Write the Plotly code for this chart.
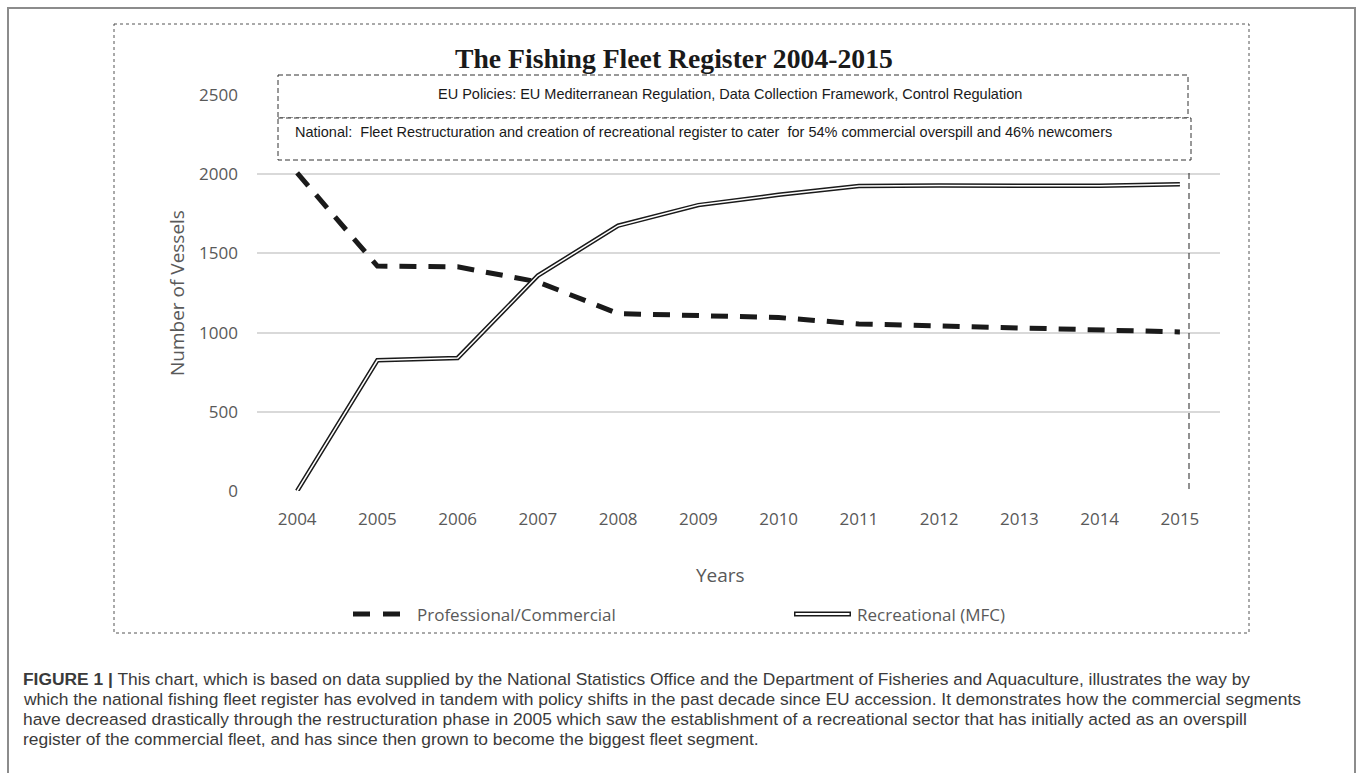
import plotly.graph_objects as go

years = ["2004", "2005", "2006", "2007", "2008", "2009", "2010", "2011", "2012", "2013", "2014", "2015"]
commercial = [2008, 1420, 1415, 1320, 1120, 1110, 1095, 1055, 1042, 1023, 1015, 1004]
recreational = [0, 825, 840, 1360, 1675, 1805, 1870, 1925, 1928, 1929, 1927, 1937]
y_ticks = [0, 500, 1000, 1500, 2000, 2500]

title_text = "The Fishing Fleet Register 2004-2015"
eu_text = "EU Policies: EU Mediterranean Regulation, Data Collection Framework, Control Regulation"
nat_text = "National:  Fleet Restructuration and creation of recreational register to cater  for 54% commercial overspill and 46% newcomers"
caption_lines = [
    "<b>FIGURE 1 |</b> This chart, which is based on data supplied by the National Statistics Office and the Department of Fisheries and Aquaculture, illustrates the way by",
    "which the national fishing fleet register has evolved in tandem with policy shifts in the past decade since EU accession. It demonstrates how the commercial segments",
    "have decreased drastically through the restructuration phase in 2005 which saw the establishment of a recreational sector that has initially acted as an overspill",
    "register of the commercial fleet, and has since then grown to become the biggest fleet segment.",
]

W, H = 1357, 773
L, R, T, B = 257, 1220, 95, 491


def px(x):
    return (x - L) / (R - L)


def py(y):
    return (B - y) / (B - T)


fig = go.Figure()
fig.add_trace(go.Scatter(x=years, y=commercial, mode="lines", name="Professional/Commercial",
                         line=dict(color="#1a1a1a", width=5, dash="17px,12px"), showlegend=False))
fig.add_trace(go.Scatter(x=years, y=recreational, mode="lines", name="Recreational (MFC)",
                         line=dict(color="#1a1a1a", width=4.5), showlegend=False))
fig.add_trace(go.Scatter(x=years, y=recreational, mode="lines", name="Recreational (MFC)",
                         line=dict(color="white", width=1.5), showlegend=False, hoverinfo="skip"))

shapes = []
# outer solid frame
shapes.append(dict(type="rect", xref="paper", yref="paper", x0=px(8), x1=px(1355), y0=py(8), y1=py(800),
                   line=dict(color="#8c8c8c", width=2), layer="below"))
# dotted chart frame
shapes.append(dict(type="rect", xref="paper", yref="paper", x0=px(114), x1=px(1249), y0=py(24), y1=py(633),
                   line=dict(color="#555555", width=1, dash="dot"), layer="below"))
# EU box
shapes.append(dict(type="rect", xref="paper", yref="paper", x0=px(278), x1=px(1188), y0=py(75), y1=py(118),
                   line=dict(color="#333333", width=1, dash="5px,3px"), fillcolor="white", layer="above"))
# National box
shapes.append(dict(type="rect", xref="paper", yref="paper", x0=px(278), x1=px(1191), y0=py(118), y1=py(160),
                   line=dict(color="#333333", width=1, dash="5px,3px"), fillcolor="white", layer="above"))
# vertical dashed line at end
shapes.append(dict(type="line", xref="paper", yref="paper", x0=px(1189), x1=px(1189), y0=py(173), y1=py(491),
                   line=dict(color="#222222", width=1, dash="6px,4px"), layer="above"))
# legend samples
shapes.append(dict(type="line", xref="paper", yref="paper", x0=px(353), x1=px(406), y0=py(614), y1=py(614),
                   line=dict(color="#1a1a1a", width=5, dash="17px,13px")))
shapes.append(dict(type="line", xref="paper", yref="paper", x0=px(794), x1=px(851), y0=py(614), y1=py(614),
                   line=dict(color="#1a1a1a", width=5)))
shapes.append(dict(type="line", xref="paper", yref="paper", x0=px(795.5), x1=px(849.5), y0=py(614), y1=py(614),
                   line=dict(color="white", width=1.8)))

sans = "Open Sans, Liberation Sans, sans-serif"
box_font = "Liberation Sans, Arial, sans-serif"
ann = []
ann.append(dict(text="<b>" + title_text + "</b>", x=px(674), y=py(58), xref="paper", yref="paper",
                showarrow=False, xanchor="center", yanchor="middle",
                font=dict(family="Liberation Serif, Times New Roman, serif", size=27.7, color="#1a1a1a")))
ann.append(dict(text=eu_text, x=px(730), y=py(94), xref="paper", yref="paper", showarrow=False,
                xanchor="center", yanchor="middle",
                font=dict(family=box_font, size=14.5, color="#1a1a1a")))
ann.append(dict(text=nat_text, x=px(293), y=py(132), xref="paper", yref="paper", showarrow=False,
                xanchor="left", yanchor="middle",
                font=dict(family=box_font, size=14.5, color="#1a1a1a")))
ann.append(dict(text="Number of Vessels", x=px(177), y=py(293), xref="paper", yref="paper", showarrow=False,
                xanchor="center", yanchor="middle", textangle=-90,
                font=dict(family=sans, size=19, color="#595959")))
ann.append(dict(text="Years", x=px(720), y=py(575), xref="paper", yref="paper", showarrow=False,
                xanchor="center", yanchor="middle", font=dict(family=sans, size=19, color="#595959")))
ann.append(dict(text="Professional/Commercial", x=px(415), y=py(614), xref="paper", yref="paper", showarrow=False,
                xanchor="left", yanchor="middle", font=dict(family=sans, size=17, color="#595959")))
ann.append(dict(text="Recreational (MFC)", x=px(855), y=py(614), xref="paper", yref="paper", showarrow=False,
                xanchor="left", yanchor="middle", font=dict(family=sans, size=17, color="#595959")))
cap_y = [679, 699, 719, 739]
for line, yy in zip(caption_lines, cap_y):
    ann.append(dict(text=line, x=px(21), y=py(yy), xref="paper", yref="paper", showarrow=False,
                    xanchor="left", yanchor="middle",
                    font=dict(family="Liberation Sans, Arial, sans-serif", size=17.4, color="#3a3a3a")))

fig.update_layout(
    width=W, height=H,
    margin=dict(l=L, r=W - R, t=T, b=H - B, pad=0),
    paper_bgcolor="white", plot_bgcolor="white",
    shapes=shapes, annotations=ann,
    showlegend=False,
    xaxis=dict(type="category", range=[-0.5, len(years) - 0.5], showgrid=False, zeroline=False, showline=False,
               tickfont=dict(family=sans, size=17, color="#595959"), ticks="", ticklabelstandoff=16),
    yaxis=dict(range=[0, 2500], tickvals=y_ticks, showgrid=True, gridcolor="#d9d9d9", gridwidth=1.5,
               zeroline=False, showline=False, ticks="",
               tickfont=dict(family=sans, size=17, color="#595959"), ticklabelstandoff=18),
)

fig.write_html("out.html", config={"displayModeBar": False},
               post_script="document.body.style.margin='0';")
